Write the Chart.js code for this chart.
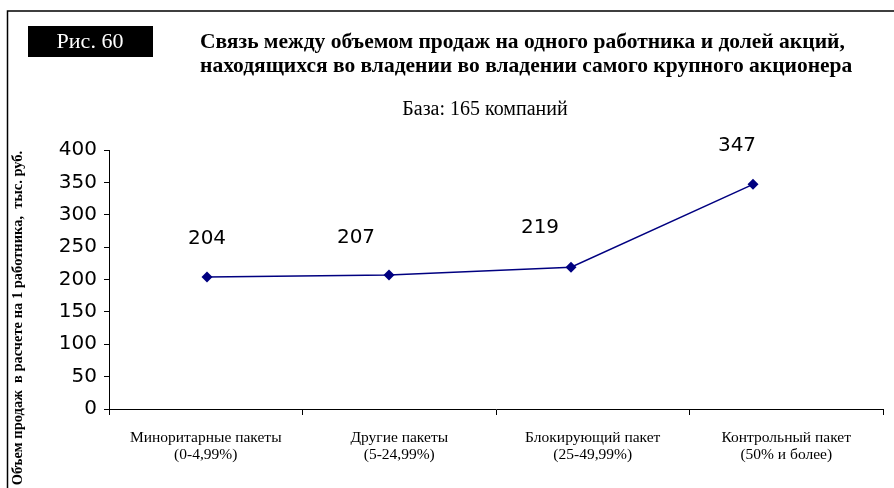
<!DOCTYPE html>
<html>
<head>
<meta charset="utf-8">
<script src="https://cdn.jsdelivr.net/npm/chart.js@4/dist/chart.umd.min.js"></script>
<style>
  html, body { margin: 0; padding: 0; background: #fff; }
  #wrap { width: 894px; height: 488px; }
</style>
</head>
<body>
<div id="wrap"><canvas id="salesChart" width="894" height="488"></canvas></div>
<script>
// Доля самого крупного акционера
const categories = [
    ['Миноритарные пакеты', '(0-4,99%)'],
    ['Другие пакеты', '(5-24,99%)'],
    ['Блокирующий пакет', '(25-49,99%)'],
    ['Контрольный пакет', '(50% и более)']
];
// Объем продаж на 1 работника, тыс. руб.
const salesPerEmployee = [204, 207, 219, 347];
const yTicks = [0, 50, 100, 150, 200, 250, 300, 350, 400];

const figLabel = 'Рис. 60';
const titleLines = [
    'Связь между объемом продаж на одного работника и долей акций,',
    'находящихся во владении во владении самого крупного акционера'
];
const subtitle = 'База: 165 компаний';
const yTitle = 'Объем продаж  в расчете на 1 работника,  тыс. руб.';

const navy = '#000080';
const serif = '"Liberation Serif", "Times New Roman", serif';
const sans = '"DejaVu Sans", Verdana, sans-serif';

// рамка, заголовок и подписи значений
const decorPlugin = {
    id: 'decor',
    beforeDraw(chart) {
        const ctx = chart.ctx;
        ctx.save();
        ctx.fillStyle = '#fff';
        ctx.fillRect(0, 0, chart.width, chart.height);

        ctx.strokeStyle = '#000';
        ctx.lineWidth = 1.5;
        ctx.beginPath();
        ctx.moveTo(7.5, chart.height);
        ctx.lineTo(7.5, 11);
        ctx.lineTo(chart.width, 11);
        ctx.stroke();

        ctx.fillStyle = '#000';
        ctx.fillRect(28, 26, 125, 31);
        ctx.fillStyle = '#fff';
        ctx.font = '22px ' + serif;
        ctx.textAlign = 'center';
        ctx.textBaseline = 'middle';
        ctx.fillText(figLabel, 90, 42);

        ctx.fillStyle = '#000';
        ctx.font = 'bold 21.5px ' + serif;
        ctx.textAlign = 'left';
        ctx.fillText(titleLines[0], 200, 42);
        ctx.fillText(titleLines[1], 200, 66);

        ctx.font = '20px ' + serif;
        ctx.textAlign = 'center';
        ctx.fillText(subtitle, 485, 110);

        ctx.translate(18, 318);
        ctx.rotate(-Math.PI / 2);
        ctx.font = 'bold 14.5px ' + serif;
        ctx.fillText(yTitle, 0, 0);
        ctx.restore();
    },
    afterDatasetsDraw(chart) {
        const ctx = chart.ctx;
        const offsets = [[0, -38], [-33, -37], [-31, -39], [-16, -39]];
        const meta = chart.getDatasetMeta(0);
        ctx.save();
        ctx.fillStyle = '#000';
        ctx.font = '20px ' + sans;
        ctx.textAlign = 'center';
        ctx.textBaseline = 'middle';
        meta.data.forEach((pt, i) => {
            ctx.fillText(String(salesPerEmployee[i]), pt.x + offsets[i][0], pt.y + offsets[i][1]);
        });
        ctx.restore();
    }
};

const ctx = document.getElementById('salesChart').getContext('2d');
new Chart(ctx, {
    type: 'line',
    data: {
        labels: categories,
        datasets: [{
            data: salesPerEmployee.map((v, i) => ({ x: i, y: v })),
            xAxisID: 'xl',
            borderColor: navy,
            borderWidth: 1.5,
            backgroundColor: navy,
            pointStyle: 'rectRot',
            pointRadius: 5.5,
            pointBorderWidth: 0,
            tension: 0
        }]
    },
    options: {
        responsive: false,
        animation: false,
        events: [],
        layout: { padding: { top: 150, right: 11, left: 0, bottom: 0 } },
        plugins: {
            legend: { display: false },
            tooltip: { enabled: false }
        },
        scales: {
            x: {
                type: 'category',
                offset: true,
                afterFit(scale) { scale.height = 79; },
                grid: {
                    offset: true,
                    drawOnChartArea: false,
                    tickLength: 6,
                    tickColor: '#000',
                    tickWidth: 1
                },
                border: { color: '#000', width: 1 },
                ticks: {
                    color: '#000',
                    font: { family: serif, size: 15.5, lineHeight: 1.1 },
                    padding: 14,
                    maxRotation: 0,
                    autoSkip: false
                }
            },
            xl: {
                type: 'linear',
                display: false,
                min: -0.5385,
                max: 3.7143
            },
            y: {
                min: 0,
                max: 400,
                afterFit(scale) { scale.width = 109; },
                afterBuildTicks(scale) { scale.ticks = yTicks.map(v => ({ value: v })); },
                grid: {
                    drawOnChartArea: false,
                    tickLength: 5,
                    tickColor: '#000'
                },
                border: { color: '#000', width: 1 },
                ticks: {
                    color: '#000',
                    font: { family: sans, size: 20 },
                    padding: 7
                }
            }
        }
    },
    plugins: [decorPlugin]
});
</script>
</body>
</html>
